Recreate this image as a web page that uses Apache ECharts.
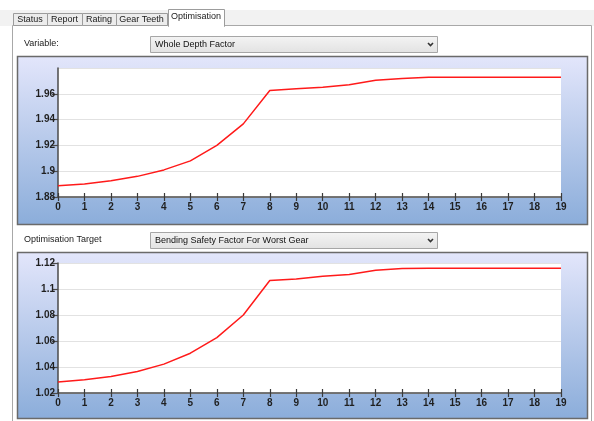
<!DOCTYPE html>
<html>
<head>
<meta charset="utf-8">
<script src="https://cdn.jsdelivr.net/npm/echarts@6/dist/echarts.min.js"></script>
<style>
html,body{margin:0;padding:0;background:#fff;}
#c{width:594px;height:421px;}
</style>
</head>
<body>
<div id="c"></div>
<script>
// ---- data ----
var tabs = ['Status', 'Report', 'Rating', 'Gear Teeth', 'Optimisation'];
var xLabels = ['0','1','2','3','4','5','6','7','8','9','10','11','12','13','14','15','16','17','18','19'];
var depthFactor = [1.8888,1.8901,1.8926,1.8960,1.9010,1.9080,1.9200,1.9367,1.9625,1.9640,1.9650,1.9670,1.9705,1.9718,1.9728,1.9728,1.9728,1.9728,1.9728,1.9728];
var bendingSF = [1.0284,1.0302,1.0327,1.0365,1.0422,1.0506,1.0626,1.0800,1.1066,1.1076,1.1098,1.1111,1.1144,1.1157,1.1160,1.1160,1.1160,1.1160,1.1160,1.1160];
var variableLabel = 'Variable:';
var variableValue = 'Whole Depth Factor';
var targetLabel = 'Optimisation Target';
var targetValue = 'Bending Safety Factor For Worst Gear';
var yRange1 = {min: 1.88, max: 1.98, interval: 0.02};
var yRange2 = {min: 1.02, max: 1.12, interval: 0.02};

var FONT = '"Liberation Sans", Arial, sans-serif';
var chart = echarts.init(document.getElementById('c'), null, {renderer: 'canvas'});

function panelGrad() {
  return new echarts.graphic.LinearGradient(0, 0, 0, 1, [
    {offset: 0, color: '#e3e6fb'},
    {offset: 1, color: '#8badda'}
  ]);
}
function ddGrad() {
  return new echarts.graphic.LinearGradient(0, 0, 0, 1, [
    {offset: 0, color: '#f4f4f4'},
    {offset: 1, color: '#e2e2e2'}
  ]);
}

var tabX = [13, 47, 82, 116, 168];
var tabW = [34, 35, 34, 51, 56];
var graphics = [];
// tab strip background
graphics.push({type:'rect', shape:{x:0,y:10,width:594,height:16}, style:{fill:'#f2f2f2'}, z:-20, silent:true});
// outer page panel
graphics.push({type:'rect', shape:{x:12.5,y:25.5,width:579,height:400}, style:{fill:'#ffffff', stroke:'#a8a8a8', lineWidth:1}, z:-19, silent:true});
tabs.forEach(function(t, i){
  var sel = i === tabs.length - 1;
  graphics.push({type:'rect', shape: sel ? {x:tabX[i]+0.5,y:9.5,width:tabW[i],height:17} : {x:tabX[i]+0.5,y:13.5,width:tabW[i],height:12},
    style:{fill: sel ? '#ffffff' : '#ececec', stroke:'#9c9c9c', lineWidth:1}, z: sel ? -17 : -18, silent:true});
  graphics.push({type:'text', x: tabX[i] + tabW[i]/2, y: sel ? 17 : 19.5,
    style:{text:t, fill:'#1a1a1a', font:'9px ' + FONT, textAlign:'center', textVerticalAlign:'middle'}, z:-16, silent:true});
});
if (true) {
  // hide bottom border of selected tab
  graphics.push({type:'rect', shape:{x:169,y:24,width:55,height:3}, style:{fill:'#ffffff'}, z:-16, silent:true});
}
function dropdown(y, label, value) {
  graphics.push({type:'text', x:24, y:y+8, style:{text:label, fill:'#1a1a1a', font:'9px ' + FONT, textVerticalAlign:'middle'}, z:-15, silent:true});
  graphics.push({type:'rect', shape:{x:150.5,y:y+0.5,width:287,height:16}, style:{fill:ddGrad(), stroke:'#a6a6a6', lineWidth:1}, z:-15, silent:true});
  graphics.push({type:'text', x:155, y:y+8.5, style:{text:value, fill:'#111', font:'9px ' + FONT, textVerticalAlign:'middle'}, z:-14, silent:true});
  graphics.push({type:'polyline', shape:{points:[[428,y+7],[430.5,y+9.5],[433,y+7]]}, style:{stroke:'#333', lineWidth:1.6, fill:null}, z:-14, silent:true});
}
dropdown(36, variableLabel, variableValue);
dropdown(232, targetLabel, targetValue);
// chart panels
graphics.push({type:'rect', shape:{x:17.5,y:56.5,width:570,height:168}, style:{fill:panelGrad(), stroke:'#6a6a6a', lineWidth:1.5}, z:-10, silent:true});
graphics.push({type:'rect', shape:{x:17.5,y:252.5,width:570,height:166}, style:{fill:panelGrad(), stroke:'#6a6a6a', lineWidth:1.5}, z:-10, silent:true});

function yAxisCfg(gi, r) {
  return {
    type:'value', gridIndex:gi, min:r.min, max:r.max, interval:r.interval,
    axisLine:{show:true, lineStyle:{color:'#4a4a4a', width:1.5}},
    axisTick:{show:true, length:6, lineStyle:{color:'#4a4a4a', width:1.2}},
    axisLabel:{color:'#1f1f1f', fontFamily:FONT, fontSize:10, fontWeight:'bold', margin:3,
      showMaxLabel: gi === 1,
      formatter:function(v){ return String(parseFloat(v.toFixed(4))); }},
    splitLine:{show:true, lineStyle:{color:'#e2e2e2', width:1.2}}
  };
}
function xAxisCfg(gi) {
  return {
    type:'category', gridIndex:gi, data:xLabels, boundaryGap:false,
    axisLine:{show:true, lineStyle:{color:'#4a4a4a', width:1.5}},
    axisTick:{show:true, length:4, interval:0, lineStyle:{color:'#3a3a3a', width:1.2}},
    axisLabel:{color:'#1f1f1f', fontFamily:FONT, fontSize:10, fontWeight:'bold', margin:5, interval:0},
    splitLine:{show:false}
  };
}
function xAxisInner(gi) {
  return {
    type:'category', gridIndex:gi, data:xLabels, boundaryGap:false, position:'bottom',
    axisLine:{show:false},
    axisTick:{show:true, inside:true, length:4, interval:0, lineStyle:{color:'#3a3a3a', width:1.2}},
    axisLabel:{show:false}, splitLine:{show:false}
  };
}

var option = {
  animation:false,
  backgroundColor:'#ffffff',
  graphic:{elements:graphics},
  grid:[
    {left:58, top:68, width:503, height:129, show:true, backgroundColor:'#ffffff', borderWidth:0},
    {left:58, top:263, width:503, height:130, show:true, backgroundColor:'#ffffff', borderWidth:0}
  ],
  xAxis:[xAxisCfg(0), xAxisCfg(1), xAxisInner(0), xAxisInner(1)],
  yAxis:[yAxisCfg(0, yRange1), yAxisCfg(1, yRange2)],
  series:[
    {type:'line', xAxisIndex:0, yAxisIndex:0, data:depthFactor, showSymbol:false, symbol:'none',
      lineStyle:{color:'#ff1a1a', width:1.5}, z:5},
    {type:'line', xAxisIndex:1, yAxisIndex:1, data:bendingSF, showSymbol:false, symbol:'none',
      lineStyle:{color:'#ff1a1a', width:1.5}, z:5}
  ]
};
chart.setOption(option);
</script>
</body>
</html>
